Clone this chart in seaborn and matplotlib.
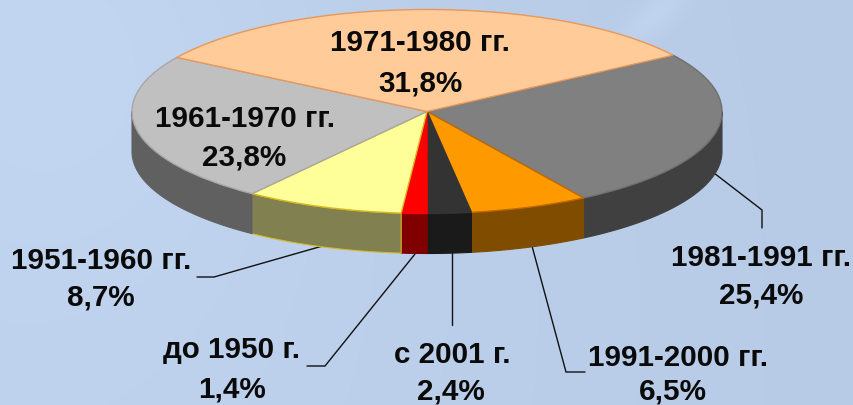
import numpy as np
import matplotlib
matplotlib.use("Agg")
import matplotlib.pyplot as plt
import seaborn as sns

# slices run clockwise from the upper right rim
periods = ["1981-1991 гг.", "1991-2000 гг.", "с 2001 г.", "до 1950 г.",
           "1951-1960 гг.", "1961-1970 гг.", "1971-1980 гг."]
shares = [25.4, 6.5, 2.4, 1.4, 8.7, 23.8, 31.8]
share_labels = ["25,4%", "6,5%", "2,4%", "1,4%", "8,7%", "23,8%", "31,8%"]
top_colors = ["#808080", "#FF9900", "#333333", "#FF0000", "#FFFF99", "#C0C0C0", "#FFCC99"]
side_colors = ["#404040", "#804D00", "#1A1A1A", "#800000", "#808050", "#606060", "#806650"]
edge_colors = ["#707070", "#C06A00", "#333333", "#FF0000", "#D8B820", "#A8A8A8", "#E8985A"]
side_edges = ["#404040", "#804D00", "#1A1A1A", "#800000", "#D8B820", "#606060", "#806650"]

# label centres in picture pixels: (name x, name y, share x, share y)
label_pos = [(761, 258, 761, 295), (678, 358, 673, 391), (452, 355, 451, 391),
             (232, 350, 232, 389), (101, 261, 101, 298), (245, 119, 244, 158),
             (420, 43, 420, 84)]
leaders = [([714, 762, 762], [173, 210, 228]),
           ([532, 566, 585], [246, 372, 372]),
           ([452, 452], [253, 325]),
           ([415, 325, 307], [254, 366, 366]),
           ([326, 214, 197], [245, 277, 277])]

CX, CY, RX, RY, DEPTH, START = 427, 111.5, 295, 102, 40, 33.5

sns.set_theme(style="white")
plt.rcParams["font.family"] = ["Liberation Sans", "DejaVu Sans"]

fig = plt.figure(figsize=(8.54, 4.05), dpi=100)

# background and leader lines, in picture pixels
ax_bg = fig.add_axes([0, 0, 1, 1], zorder=0)
yy, xx = np.mgrid[0:405, 0:854]
base = np.array([186, 205, 233], dtype=float)
glow = (4 * np.exp(-((xx - 100) ** 2 + (yy - 330) ** 2) / 2.5e5)
        + 5 * np.exp(-((xx - 60) ** 2 + (yy - 30) ** 2) / 6e4)
        - 3 * (xx / 854)
        + 7 * np.exp(-(((xx - 650) + (yy - 20) * 0.9) ** 2) / 500) * np.exp(-((yy - 15) ** 2) / 1200))
bg = np.clip(base[None, None, :] + glow[..., None], 0, 255) / 255
ax_bg.imshow(bg, extent=(0, 854, 405, 0), aspect="auto", interpolation="bilinear")
ax_bg.set_xlim(0, 854)
ax_bg.set_ylim(405, 0)
ax_bg.axis("off")
for xs, ys in leaders:
    ax_bg.plot(xs, ys, color="#111111", lw=1.0, solid_joinstyle="miter")

# pie axes: a circle of radius RX in data units, squashed by the y limits
scale = RX / RY
ax = fig.add_axes([0, 0, 1, 1], zorder=1)
ax.patch.set_alpha(0)
wedges, _ = ax.pie(shares, colors=sns.color_palette(top_colors), startangle=START,
                   counterclock=False, radius=RX, center=(CX, 0))
ax.set_aspect("auto")
ax.set_xlim(0, 854)
ax.set_ylim((CY - 405) * scale, CY * scale)
ax.axis("off")

boundaries = START - np.cumsum([0] + shares) * 3.6
for i, wedge in enumerate(wedges):
    wedge.set_edgecolor(edge_colors[i])
    wedge.set_linewidth(1.0)
    wedge.set_zorder(3)
    # visible wall: the part of the slice on the front half of the rim
    a0, a1 = min(boundaries[i], 0), max(boundaries[i + 1], -180)
    if a0 <= a1:
        continue
    t = np.radians(np.linspace(a0, a1, 80))
    x = CX + RX * np.cos(t)
    y = RX * np.sin(t)
    ax.fill(np.r_[x, x[::-1]], np.r_[y, y[::-1] - DEPTH * scale],
            facecolor=side_colors[i], edgecolor=side_edges[i], lw=0.8, zorder=2)

for name, pct, (x1, y1, x2, y2) in zip(periods, share_labels, label_pos):
    ax.text(x1, y1, name, transform=ax_bg.transData, ha="center", va="center",
            fontsize=21.3, fontweight="bold", color="#0A0A0A", zorder=5)
    ax.text(x2, y2, pct, transform=ax_bg.transData, ha="center", va="center",
            fontsize=21.3, fontweight="bold", color="#0A0A0A", zorder=5)

fig.savefig("out.png", dpi=100)
